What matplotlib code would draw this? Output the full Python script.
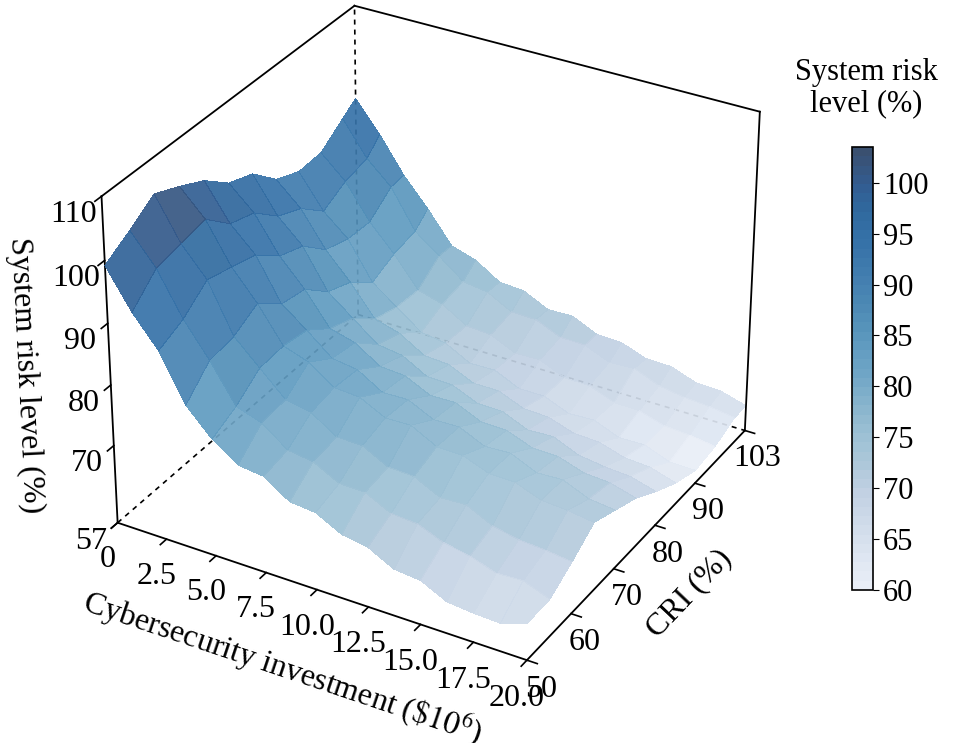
import numpy as np
import matplotlib as mpl
mpl.use("Agg")
import matplotlib.pyplot as plt
from matplotlib.colors import LinearSegmentedColormap, Normalize, PowerNorm
from matplotlib.cm import ScalarMappable

mpl.rcParams.update({"font.family": "Liberation Serif", "font.size": 23,
                     "mathtext.fontset": "stix"})

# grid
invest = [0, 1.25, 2.5, 3.75, 5, 6.25, 7.5, 8.75, 10, 11.25, 12.5, 13.75,
          15, 16.25, 17.5, 18.75, 20]
cri = [50, 55, 60, 65, 70, 75, 80, 85, 90, 95, 100, 103]
risk = [
    [99.2, 93.0, 88.1, 80.6, 76.4, 73.5, 73.0, 70.2, 69.8, 67.6, 66.9, 64.7, 64.3, 62.2, 61.8, 61.6, 63.1],
    [101.6, 96.8, 89.9, 84.5, 78.3, 76.9, 73.8, 73.2, 71.0, 70.9, 68.8, 68.5, 66.8, 66.0, 64.6, 64.8, 63.2],
    [104.3, 97.6, 93.0, 85.1, 81.2, 77.3, 76.5, 73.8, 73.7, 71.5, 71.3, 69.2, 69.4, 67.3, 66.4, 66.1, 65.6],
    [102.5, 98.4, 91.9, 87.2, 81.5, 80.1, 77.2, 76.9, 74.8, 74.9, 72.7, 72.6, 71.0, 70.9, 69.3, 69.0, 68.4],
    [100.4, 94.6, 90.7, 83.9, 80.8, 77.4, 76.8, 74.3, 74.4, 72.4, 72.5, 70.6, 70.8, 68.9, 69.1, 67.3, 66.8],
    [97.0, 93.3, 87.4, 83.1, 77.8, 76.7, 74.0, 73.7, 71.7, 71.8, 69.9, 69.8, 68.2, 68.1, 66.7, 66.4, 65.2],
    [95.5, 89.7, 85.9, 79.5, 76.3, 73.1, 72.5, 70.2, 70.1, 68.3, 68.2, 66.4, 66.6, 64.8, 64.2, 63.9, 62.7],
    [91.6, 87.9, 82.2, 77.9, 72.9, 71.7, 69.2, 68.9, 67.0, 67.0, 65.3, 65.1, 63.7, 63.5, 62.2, 61.9, 60.6],
    [89.9, 84.4, 80.9, 74.7, 71.7, 68.6, 68.0, 65.8, 65.9, 64.0, 64.0, 62.3, 62.5, 60.8, 60.9, 59.3, 59.2],
    [90.1, 86.4, 80.7, 76.4, 71.4, 70.2, 67.7, 67.4, 65.5, 65.6, 63.8, 63.7, 62.1, 62.0, 60.7, 60.4, 59.8],
    [92.9, 87.3, 83.6, 77.2, 74.1, 70.9, 70.3, 68.1, 68.0, 66.2, 66.1, 64.4, 64.6, 62.9, 62.2, 61.9, 61.3],
    [94.6, 89.6, 83.8, 79.2, 74.0, 72.7, 70.1, 69.8, 67.8, 67.9, 66.0, 65.8, 64.3, 64.2, 62.7, 62.5, 61.3],
]

x_ticks = [0, 2.5, 5, 7.5, 10, 12.5, 15, 17.5, 20]
x_ticklabels = ["0", "2.5", "5.0", "7.5", "10.0", "12.5", "15.0", "17.5", "20.0"]
y_ticks = [50, 60, 70, 80, 90, 103]
z_ticks = [57, 70, 80, 90, 100, 110]
cb_ticks = [60, 65, 70, 75, 80, 85, 90, 95, 100]

cmap = LinearSegmentedColormap.from_list("risk", [
    (0.00, "#e9eef7"), (0.07, "#dde5f1"), (0.14, "#d0dbea"), (0.21, "#c3d1e3"),
    (0.28, "#adc8da"), (0.35, "#9cc0d4"), (0.42, "#86b3cc"), (0.49, "#6fa5c6"),
    (0.56, "#5e9abf"), (0.63, "#4f8cb6"), (0.70, "#447fb0"), (0.79, "#3672a8"),
    (0.86, "#306a9f"), (0.92, "#325d92"), (1.00, "#3a5070")], N=48)
norm = Normalize(60, 103.5)
surf_norm = PowerNorm(0.75, vmin=59.5, vmax=104)   # shading on the surface reads darker mid-range

X, Y = np.meshgrid(invest, cri)
Z = np.array(risk)

fig = plt.figure(figsize=(9.56, 7.43), dpi=100)
ax = fig.add_axes([0.024, 0.059, 0.845, 0.998], projection="3d", computed_zorder=False)
ax.view_init(elev=31, azim=-60)
ax.set_box_aspect((1, 1, 0.8), zoom=1.0)

x0, x1, y0, y1, z0, z1 = 0, 20, 50, 103, 57, 110
# hidden edges (dashed) behind the surface
kw = dict(color="k", lw=1.2, ls=(0, (3, 3)), zorder=1)
ax.plot([x0, x0], [y1, y1], [z0, z1], **kw)
ax.plot([x0, x0], [y0, y1], [z0, z0], **kw)
ax.plot([x0, x1], [y1, y1], [z0, z0], **kw)

ax.plot_surface(X, Y, Z, cmap=cmap, norm=surf_norm, rstride=1, cstride=1,
                linewidth=0, edgecolor="none", antialiased=False, alpha=0.92, zorder=2)

kw = dict(color="k", lw=1.3, zorder=3)
ax.plot([x0, x0], [y0, y1], [z1, z1], **kw)
ax.plot([x0, x1], [y1, y1], [z1, z1], **kw)
ax.plot([x1, x1], [y1, y1], [z0, z1], **kw)

ax.set_xlim(x0, x1); ax.set_ylim(y0, y1); ax.set_zlim(z0, z1)
ax.set_xticks(x_ticks); ax.set_xticklabels(x_ticklabels)
ax.set_yticks(y_ticks); ax.set_zticks(z_ticks)
ax.zaxis.set_ticks_position("lower")
ax.zaxis.set_label_position("lower")
ax.tick_params(axis="y", pad=1)
ax.grid(False)
for a in (ax.xaxis, ax.yaxis, ax.zaxis):
    a.set_pane_color((1, 1, 1, 0))
    a.pane.set_edgecolor((1, 1, 1, 0))
    a.line.set_color("k")
    a.line.set_linewidth(1.3)
    a._axinfo["tick"]["inward_factor"] = 0.3
    a._axinfo["tick"]["outward_factor"] = 0.0
    a._axinfo["tick"]["linewidth"] = {True: 1.2, False: 1.0}
ax.set_xlabel(r"Cybersecurity investment ($\mathit{\$10^{6}}$)", labelpad=18)
ax.set_ylabel("CRI (%)", labelpad=12)
ax.set_zlabel("System risk level (%)", labelpad=14)

cax = fig.add_axes([0.891, 0.206, 0.022, 0.596])
cb = fig.colorbar(ScalarMappable(norm=norm, cmap=cmap), cax=cax, ticks=cb_ticks)
cb.outline.set_linewidth(1.2)
cax.tick_params(labelsize=22, length=4)
fig.text(0.906, 0.922, "System risk\nlevel (%)", ha="center", va="top",
         fontsize=22, linespacing=1.1)

fig.savefig("out.png", dpi=100)
